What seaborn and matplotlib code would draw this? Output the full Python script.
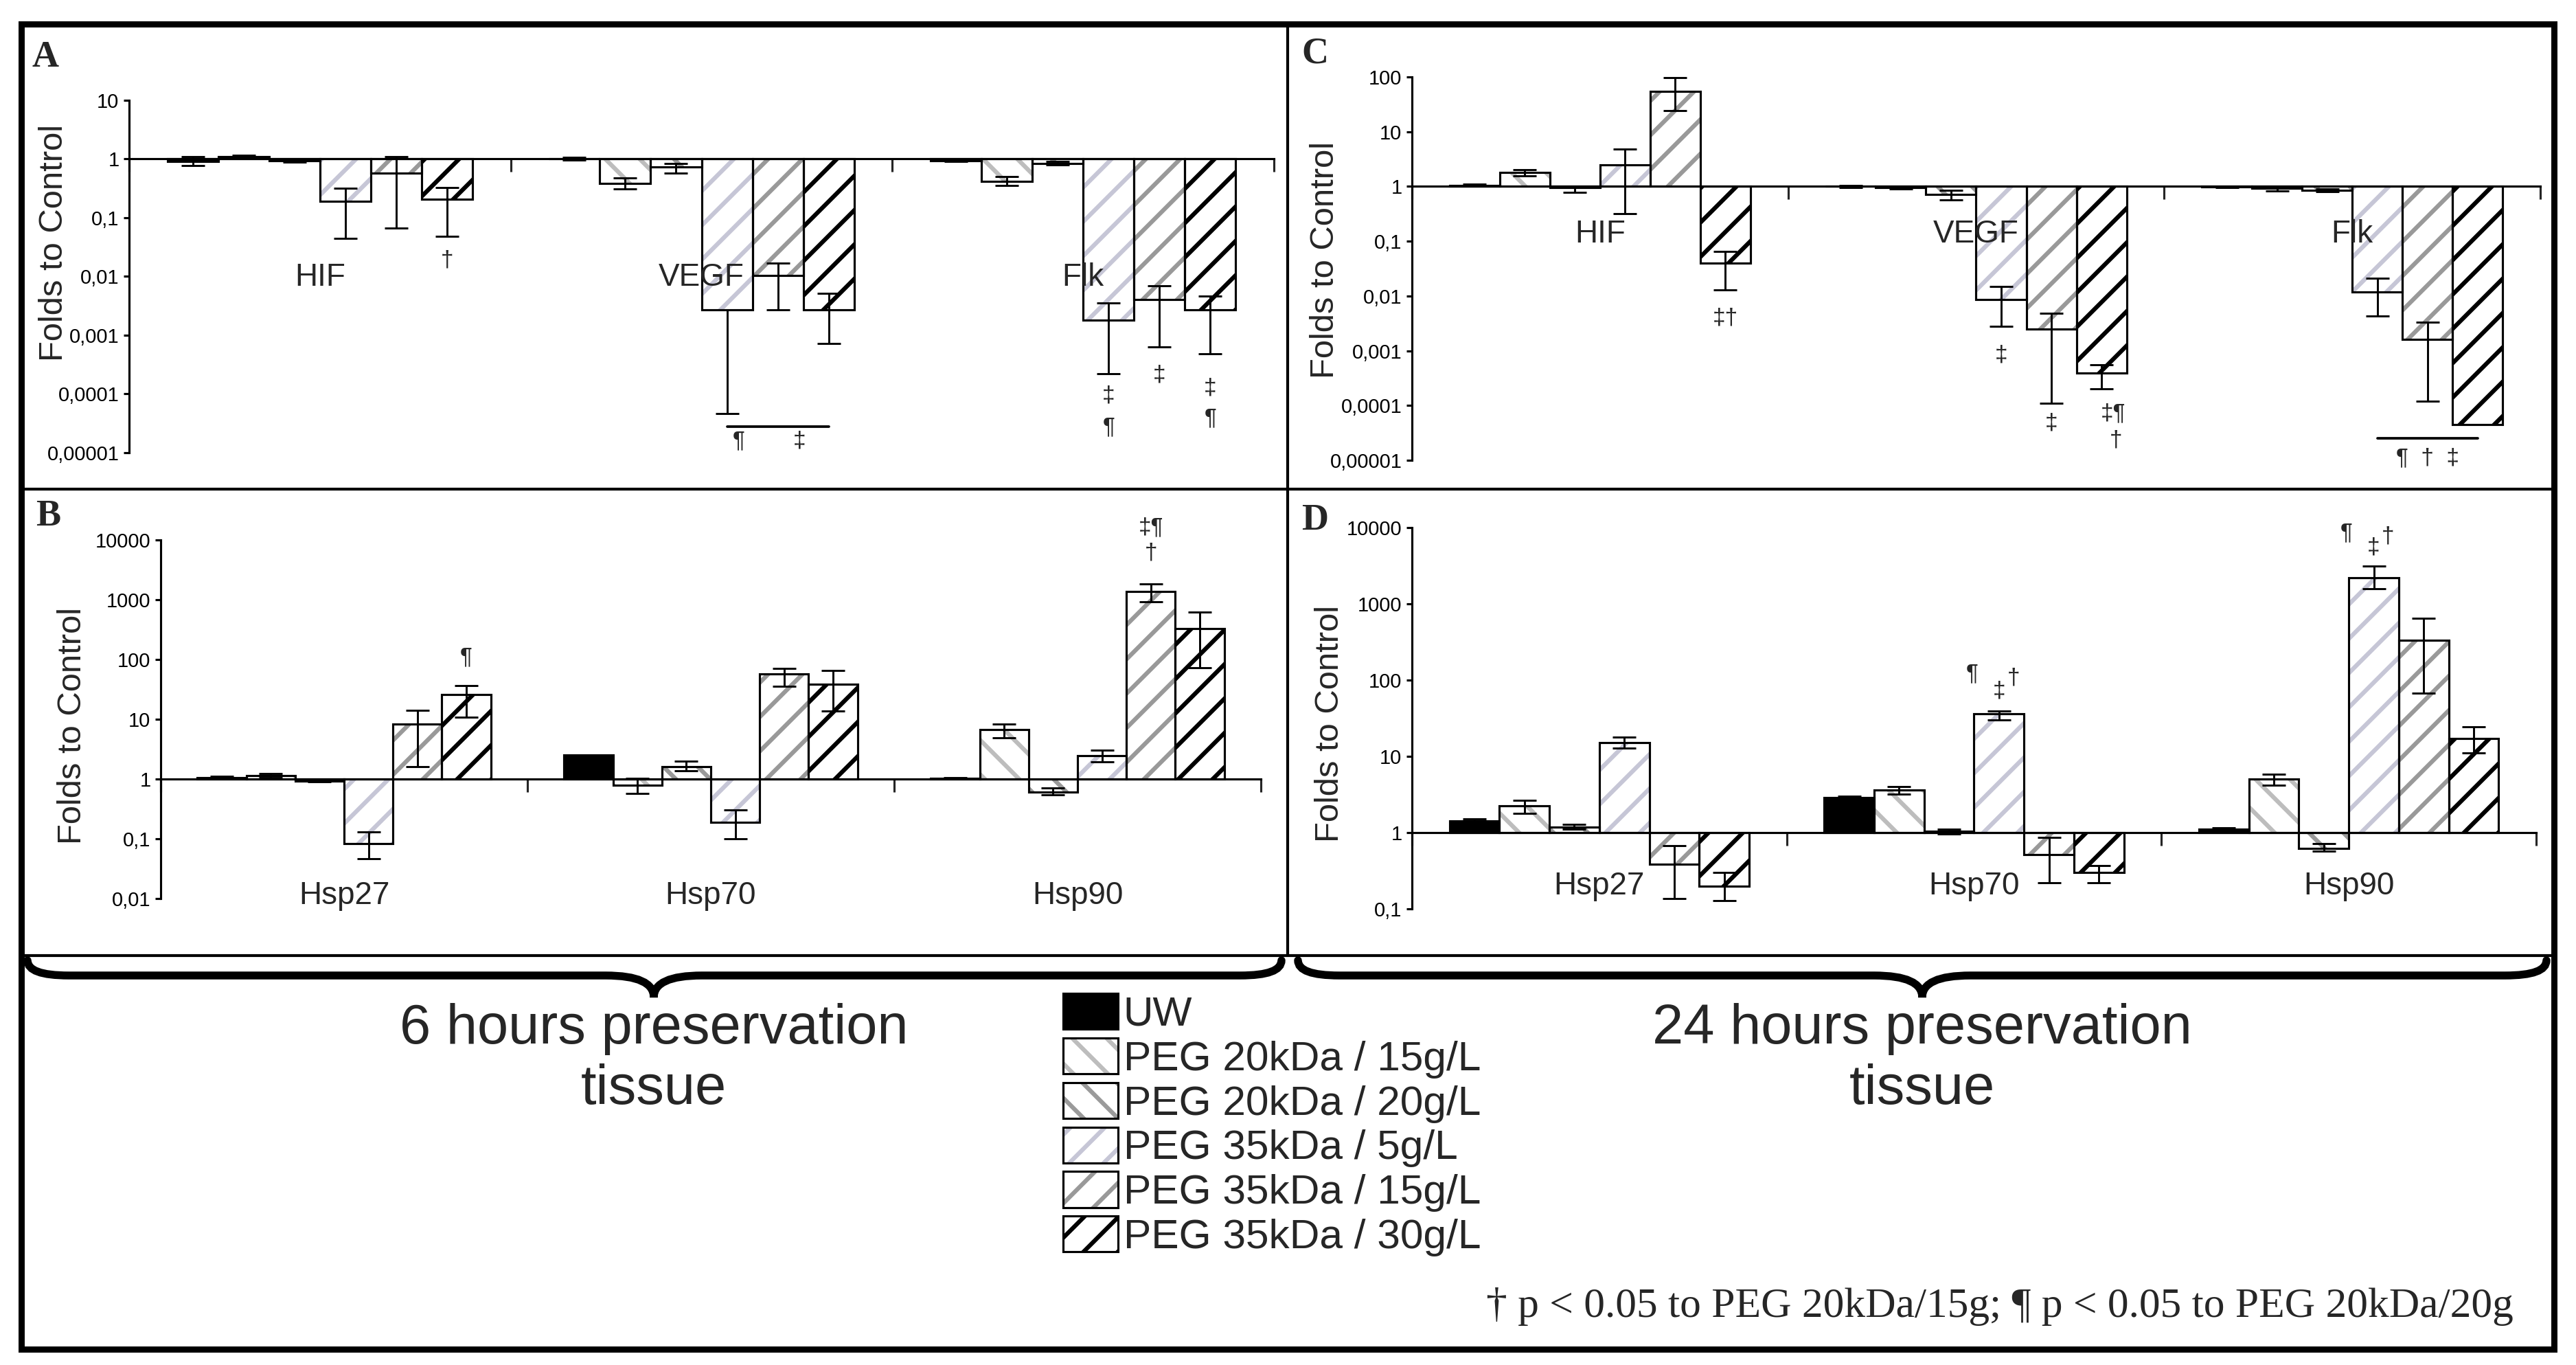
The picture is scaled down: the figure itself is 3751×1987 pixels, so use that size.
import numpy as np
import pandas as pd
import matplotlib
matplotlib.use("Agg")
import matplotlib.pyplot as plt
import seaborn as sns
from matplotlib.patches import Rectangle, Patch, PathPatch
from matplotlib.path import Path
from matplotlib.lines import Line2D
from matplotlib.ticker import FixedLocator, FuncFormatter, NullLocator

# ---------------------------------------------------------------- data
groups = ['UW', 'PEG 20kDa / 15g/L', 'PEG 20kDa / 20g/L',
          'PEG 35kDa / 5g/L', 'PEG 35kDa / 15g/L', 'PEG 35kDa / 30g/L']
angio_genes = ['HIF', 'VEGF', 'Flk']
hsp_genes = ['Hsp27', 'Hsp70', 'Hsp90']

# rows = groups, columns = genes ; folds to control
a_mean = [[0.92, 1.02, 0.94],
          [1.10, 0.38, 0.42],
          [0.93, 0.73, 0.85],
          [0.19, 0.0027, 0.0018],
          [0.57, 0.0105, 0.0041],
          [0.205, 0.0027, 0.0027]]
a_low = [[0.77, 0.97, 0.90],
         [1.04, 0.31, 0.35],
         [0.88, 0.57, 0.80],
         [0.044, 4.7e-5, 2.2e-4],
         [0.067, 0.0027, 6.3e-4],
         [0.048, 7.2e-4, 4.8e-4]]
a_high = [[1.10, 1.08, 0.98],
          [1.16, 0.48, 0.50],
          [0.98, 0.83, 0.90],
          [0.32, 0.0027, 0.0035],
          [1.10, 0.0168, 0.0070],
          [0.33, 0.0052, 0.0046]]

b_mean = [[1.05, 2.5, 1.02],
          [1.15, 0.78, 6.8],
          [0.93, 1.63, 0.61],
          [0.082, 0.19, 2.43],
          [8.2, 58.0, 1356.0],
          [25.8, 38.7, 326.0]]
b_low = [[1.00, 2.5, 1.00],
         [1.05, 0.58, 4.9],
         [0.90, 1.39, 0.55],
         [0.046, 0.10, 1.95],
         [1.6, 36.0, 935.0],
         [10.7, 13.6, 72.0]]
b_high = [[1.10, 2.5, 1.05],
          [1.25, 1.04, 8.4],
          [0.96, 2.0, 0.70],
          [0.13, 0.30, 3.0],
          [14.0, 70.0, 1840.0],
          [37.0, 65.0, 614.0]]

c_mean = [[1.05, 1.00, 0.97],
          [1.79, 0.95, 0.93],
          [0.95, 0.72, 0.85],
          [2.5, 0.0085, 0.0119],
          [55.0, 0.0025, 0.0016],
          [0.0396, 3.9e-4, 4.5e-5]]
c_low = [[1.00, 0.95, 0.95],
         [1.55, 0.90, 0.82],
         [0.78, 0.57, 0.80],
         [0.32, 0.0028, 0.0043],
         [24.0, 1.1e-4, 1.2e-4],
         [0.0129, 2.0e-4, 4.5e-5]]
c_high = [[1.10, 1.05, 1.00],
          [2.00, 1.00, 1.00],
          [1.00, 0.85, 0.90],
          [4.8, 0.0151, 0.021],
          [96.0, 0.0049, 0.0033],
          [0.065, 5.6e-4, 4.5e-5]]

d_mean = [[1.42, 2.9, 1.1],
          [2.24, 3.6, 5.04],
          [1.19, 1.05, 0.62],
          [15.0, 36.0, 2218.0],
          [0.386, 0.51, 331.0],
          [0.20, 0.30, 17.3]]
d_low = [[1.35, 2.8, 1.05],
         [1.77, 3.2, 4.17],
         [1.10, 0.95, 0.57],
         [12.8, 29.8, 1590.0],
         [0.136, 0.22, 67.8],
         [0.127, 0.22, 11.0]]
d_high = [[1.50, 3.0, 1.15],
          [2.66, 3.98, 5.8],
          [1.27, 1.10, 0.72],
          [17.9, 39.6, 3140.0],
          [0.68, 0.87, 643.0],
          [0.30, 0.37, 24.6]]

# significance marks: (gene index, group index, text, y value, x offset in points)
a_marks = [(0, 5, '†', 0.019, 0), (1, 3, '¶', 1.6e-5, 8), (1, 4, '‡', 1.6e-5, 15),
           (2, 3, '‡', 9.3e-5, 0), (2, 3, '¶', 2.7e-5, 0), (2, 4, '‡', 2.1e-4, 0),
           (2, 5, '‡', 1.27e-4, 0), (2, 5, '¶', 3.9e-5, 0)]
a_lines = [(1, 3, 5, 2.8e-5)]
b_marks = [(0, 5, '¶', 109, 0), (2, 4, '‡¶', 16000, 0), (2, 4, '†', 6000, 0)]
b_lines = []
c_marks = [(0, 5, '‡†', 0.004, 0), (1, 3, '‡', 8.3e-4, 0), (1, 4, '‡', 4.7e-5, 0),
           (1, 5, '‡¶', 7.2e-5, 8), (1, 5, '†', 2.3e-5, 10), (2, 4, '¶  †  ‡', 1.1e-5, 0)]
c_lines = [(2, 3, 5, 2.5e-5)]
d_marks = [(1, 3, '¶', 122, -19), (1, 3, '‡', 72, 0), (1, 3, '†', 106, 10),
           (2, 3, '¶', 8500, -19), (2, 3, '‡', 5500, 0), (2, 3, '†', 7600, 10)]
d_lines = []

# ---------------------------------------------------------------- style
W, H, DPI = 3751, 1987, 150
sns.set_theme(style="white")
plt.rcParams['font.family'] = ['Liberation Sans', 'DejaVu Sans']
plt.rcParams['hatch.linewidth'] = 3.0
SERIF = ['Liberation Serif', 'DejaVu Serif']

face = ['black', 'white', 'white', 'white', 'white', 'white']
hatches = [None, '\\', '\\', '/', '/', '/']
hcolors = ['black', '#bdbdbd', '#9a9a9a', '#c6c6d6', '#999999', 'black']

fig = plt.figure(figsize=(W / DPI, H / DPI), dpi=DPI)
fig.patch.set_facecolor('white')


def rect(x0, x1, ytop, ybot):
    return [x0 / W, 1 - ybot / H, (x1 - x0) / W, (ybot - ytop) / H]


def fmt(v, pos):
    if v >= 1:
        return f"{v:.0f}"
    nd = int(round(-np.log10(v)))
    return f"{v:.{nd}f}".replace('.', ',')


def draw_panel(box, genes, mean, low, high, ylim, ticks, label_y, ylab_xy, marks, lines):
    ax = fig.add_axes(box)
    rows = []
    for gi, g in enumerate(groups):
        for ci, gene in enumerate(genes):
            rows.append(dict(gene=gene, group=g, delta=mean[gi][ci] - 1.0))
    df = pd.DataFrame(rows)
    sns.barplot(data=df, x='gene', y='delta', hue='group', order=genes, hue_order=groups,
                palette=dict(zip(groups, face)), saturation=1, errorbar=None, width=0.8,
                bottom=1.0, legend=False, ax=ax, linewidth=0, zorder=2)
    centers = np.zeros((len(groups), len(genes)))
    for gi, cont in enumerate(list(ax.containers)[:len(groups)]):
        for ci, p in enumerate(cont.patches):
            centers[gi, ci] = p.get_x() + p.get_width() / 2
            p.set_facecolor(face[gi])
            p.set_edgecolor(hcolors[gi])
            p.set_linewidth(0)
            if hatches[gi]:
                p.set_hatch(hatches[gi])
            ax.add_patch(Rectangle(p.get_xy(), p.get_width(), p.get_height(), fill=False,
                                   edgecolor='black', linewidth=1.5, zorder=3))
    ax.set_yscale('log')
    m = np.array(mean)
    lo = np.array(low)
    hi = np.array(high)
    ax.errorbar(centers.ravel(), m.ravel(), yerr=[(m - lo).ravel(), (hi - m).ravel()],
                fmt='none', ecolor='black', elinewidth=1.4, capsize=8, capthick=1.4, zorder=4)
    ax.set_ylim(*ylim)
    ax.set_xlim(-0.5, 2.5)
    for s in ['top', 'right']:
        ax.spines[s].set_visible(False)
    ax.spines['bottom'].set_position(('data', 1.0))
    for s in ['left', 'bottom']:
        ax.spines[s].set_linewidth(1.5)
        ax.spines[s].set_color('black')
        ax.spines[s].set_zorder(3.5)
    ax.set_xticks([-0.5, 0.5, 1.5, 2.5])
    ax.set_xticklabels([])
    ax.tick_params(axis='x', direction='out', length=9, width=1.5, bottom=True, labelbottom=False)
    ax.yaxis.set_major_locator(FixedLocator(ticks))
    ax.yaxis.set_minor_locator(NullLocator())
    ax.yaxis.set_major_formatter(FuncFormatter(fmt))
    ax.tick_params(axis='y', direction='out', length=4, width=1.5, pad=3, labelsize=14,
                   left=True, colors='black')
    ax.set_xlabel('')
    ax.set_ylabel('Folds to Control', fontsize=23.5)
    ax.yaxis.set_label_coords(*ylab_xy)
    ax.patch.set_alpha(0)
    for ci, gene in enumerate(genes):
        ax.text(ci, label_y, gene, ha='center', va='center', fontsize=22, zorder=6)
    for (ci, gi, txt, yv, dx) in marks:
        ax.annotate(txt, xy=(centers[gi, ci], yv), xytext=(dx, 0), textcoords='offset points',
                    ha='center', va='center', fontsize=16, annotation_clip=False, zorder=6)
    for (ci, g0, g1, yv) in lines:
        ax.plot([centers[g0, ci], centers[g1, ci]], [yv, yv], color='black', lw=1.8,
                clip_on=False, zorder=6)
    return ax


draw_panel(rect(188, 1855, 146, 659), angio_genes, a_mean, a_low, a_high, (1e-5, 10),
           [1e-5, 1e-4, 1e-3, 1e-2, 0.1, 1, 10], 0.0096, (-0.052, 0.596), a_marks, a_lines)
draw_panel(rect(2056, 3699, 112, 670), angio_genes, c_mean, c_low, c_high, (1e-5, 100),
           [1e-5, 1e-4, 1e-3, 1e-2, 0.1, 1, 10, 100], 0.134, (-0.063, 0.523), c_marks, c_lines)
draw_panel(rect(234, 1836, 786, 1308), hsp_genes, b_mean, b_low, b_high, (0.01, 10000),
           [0.01, 0.1, 1, 10, 100, 1000, 10000], 0.011, (-0.066, 0.481), b_marks, b_lines)
draw_panel(rect(2056, 3693, 768, 1323), hsp_genes, d_mean, d_low, d_high, (0.1, 10000),
           [0.1, 1, 10, 100, 1000, 10000], 0.2, (-0.059, 0.486), d_marks, d_lines)

# ---------------------------------------------------------------- frame & decorations
def fline(x0, y0, x1, y1, lw):
    fig.add_artist(Line2D([x0 / W, x1 / W], [1 - y0 / H, 1 - y1 / H], color='black',
                          lw=lw, transform=fig.transFigure, solid_capstyle='butt'))


fig.add_artist(Rectangle((31 / W, 1 - 1964 / H), (3719 - 31) / W, (1964 - 35) / H,
                         fill=False, edgecolor='black', lw=4.3, transform=fig.transFigure))
fline(1875, 35, 1875, 1392, 2.0)
fline(31, 712, 3719, 712, 2.0)
fline(31, 1391, 3719, 1391, 2.0)


def brace(x0, x1, xm, yt, yb, ytip, r=60, rt=70):
    pts = [(x0, yt), (x0, yb), (x0 + r, yb), (xm - rt, yb), (xm, yb), (xm, ytip),
           (xm, yb), (xm + rt, yb), (x1 - r, yb), (x1, yb), (x1, yt)]
    codes = [Path.MOVETO, Path.CURVE3, Path.CURVE3, Path.LINETO, Path.CURVE3, Path.CURVE3,
             Path.CURVE3, Path.CURVE3, Path.LINETO, Path.CURVE3, Path.CURVE3]
    pts = [(x / W, 1 - y / H) for x, y in pts]
    fig.add_artist(PathPatch(Path(pts, codes), fill=False, edgecolor='black', lw=5.5,
                             transform=fig.transFigure, capstyle='round'))


brace(40, 1866, 952, 1398, 1420, 1452)
brace(1890, 3708, 2799, 1398, 1420, 1452)

fig.text(952 / W, 1 - 1542 / H, '6 hours preservation\ntissue', ha='center', va='center',
         fontsize=39, linespacing=1.2)
fig.text(2799 / W, 1 - 1542 / H, '24 hours preservation\ntissue', ha='center', va='center',
         fontsize=39, linespacing=1.2)

for letter, (x, y) in zip('ABCD', [(66, 84), (70, 752), (1915, 79), (1915, 758)]):
    fig.text(x / W, 1 - y / H, letter, ha='center', va='center', fontsize=26,
             fontweight='bold', family=SERIF)

handles = []
for gi in range(len(groups)):
    if hatches[gi] is None:
        handles.append(Patch(facecolor=face[gi], edgecolor='black', lw=1.5))
    else:
        handles.append((Patch(facecolor='white', edgecolor=hcolors[gi], hatch=hatches[gi], lw=0),
                        Patch(facecolor='none', edgecolor='black', lw=1.5)))
fig.legend(handles, groups, loc='upper left', bbox_to_anchor=(1548 / W, 1 - 1446 / H),
           frameon=False, fontsize=29, handlelength=1.33, handleheight=0.95,
           handletextpad=0.12, labelspacing=0.1, borderpad=0, borderaxespad=0)

fig.text(3660 / W, 1 - 1902 / H, '† p < 0.05 to PEG 20kDa/15g; ¶ p < 0.05 to PEG 20kDa/20g',
         ha='right', va='center', fontsize=29.5, family=SERIF)

fig.savefig('out.png', dpi=DPI, facecolor='white')
